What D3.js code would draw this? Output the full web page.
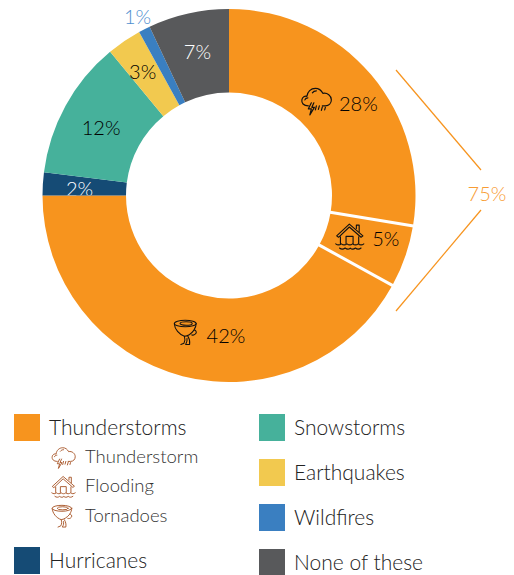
<!DOCTYPE html>
<html><head><meta charset="utf-8">
<script src="https://cdn.jsdelivr.net/npm/d3@7/dist/d3.min.js"></script>
<style>
html,body{margin:0;padding:0;background:#fff}
svg{display:block}
text{font-family:Lato,"Open Sans",sans-serif;font-weight:300}
.ico *{fill:none;stroke:currentColor;stroke-width:1.2;stroke-linecap:round;stroke-linejoin:round}
</style></head><body>
<svg id="c" width="514" height="575"></svg>
<script>
const categories=["Thunderstorm","Flooding","Tornadoes","Hurricanes","Snowstorms","Earthquakes","Wildfires","None of these"];
const values=[27.6,5.4,42,2,12,3,1,7];
const valueLabels=["28%","5%","42%","2%","12%","3%","1%","7%"];
const colors=["#F7941E","#F7941E","#F7941E","#154B75","#46B19B","#F2C94F","#3A7FC1","#58595B"];
const labelColors=["#000","#000","#000","#fff","#000","#000","#4F8FD0","#fff"];
const icons=["i-storm","i-flood","i-tornado",null,null,null,null,null];
const groupTotal="75%";
const leftLegend=[["Thunderstorms","#F7941E"],["Hurricanes","#154B75"]];
const subLegend=[["Thunderstorm","i-storm"],["Flooding","i-flood"],["Tornadoes","i-tornado"]];
const rightLegend=[["Snowstorms","#46B19B"],["Earthquakes","#F2C94F"],["Wildfires","#3A7FC1"],["None of these","#58595B"]];

const svg=d3.select("#c");
const defs=svg.append("defs");
function sym(id,draw){const s=defs.append("symbol").attr("id",id).attr("viewBox","0 0 32 32").attr("class","ico");draw(s);}
sym("i-storm",s=>{
 s.append("path").attr("d","M8 21C3 21 1 18 1.500 15C2 12 4.500 11 6.500 11.500C7 7 10.500 3.500 15 3.500C18.500 3.500 21 5.500 22.500 8.500C27 7.500 31 11 31 15C31 18.500 28.500 21 25 21H22");
 s.append("path").attr("d","M4.500 15C5 13.500 6 13 7.500 13M12 8C13 6.500 14.500 6 16 6");
 s.append("path").attr("d","M11 18L8 24L11 24L9.500 30L14 22.500L11.500 22.500L13.500 18");
 s.append("path").attr("d","M16 21L15 25M19 21L18 24.500M22 22L21 25.500M25 22.500L24.300 25");
});
sym("i-flood",s=>{
 s.append("path").attr("d","M2 15L15.500 2.500L30 15L28 16.500L15.500 5.500L4 16.500Z");
 s.append("path").attr("d","M23 7V3.500H26V10.500");
 s.append("path").attr("d","M6 16V23M25.500 16V23");
 s.append("path").attr("d","M12 23V15.500H19.500V23");
 s.append("path").attr("d","M1 23.500C3 25 5 25 7 23.500C9 25 11 25 13 23.500C15 25 17 25 19 23.500C21 25 23 25 25 23.500C27 25 29 25 31 23.500");
 s.append("path").attr("d","M5 28C7 29.500 9 29.500 11 28C13 29.500 15 29.500 16.500 28C18 29.500 20 29.500 22 28C24 29.500 26 29.500 28 28");
});
sym("i-tornado",s=>{
 s.append("ellipse").attr("cx",14).attr("cy",5.500).attr("rx",12.500).attr("ry",3.800);
 s.append("ellipse").attr("cx",15).attr("cy",5.500).attr("rx",7).attr("ry",2);
 s.append("path").attr("d","M1.500 6C2 12 7 18 13 20C16 20 21 17 24 13C25.500 10.500 26.500 8 26.500 5.500");
 s.append("path").attr("d","M24 13C26 13 27.500 15 26 17C25 18.500 23 19 21.500 18.500");
 s.append("path").attr("d","M13 20C14 23 14 25 12.500 28L9 29.500M17 20C19 23 19.500 26 19 29.500L14.500 29.500C16 27 16.500 25 16 22.500");
});

const cx=229,cy=195.5,R=186.5,r=103;
const pie=d3.pie().sort(null).value(d=>d);
const arc=d3.arc().innerRadius(r).outerRadius(R);
const arcs=pie(values);
const g=svg.append("g").attr("transform",`translate(${cx},${cy})`);
g.selectAll("path.s").data(arcs).join("path").attr("class","s").attr("d",arc).attr("fill",(d,i)=>colors[i]);
// white separators inside the 75% group
const line=d3.lineRadial();
[arcs[0].endAngle,arcs[1].endAngle].forEach(a=>{
 g.append("path").attr("d",line([[a,r-2],[a,R+2]])).attr("stroke","#fff").attr("stroke-width",3).attr("fill","none");
});
defs.append("clipPath").attr("id","clip2").append("path").attr("d",arc(arcs[3]));

const labelOffsets=[[19,1],[20,-5],[33,-1],[-5,2],[-1,1.500],[-5,-5],[0,0],[0,-3]];
const iconOffsets=[[-23,-1],[-16,-6],[-6,-3]];
const iconSize=[32,30,28];
arcs.forEach((d,i)=>{
 const [x,y]=arc.centroid(d);
 const [ox,oy]=labelOffsets[i];
 let tx=x+ox,ty=y+oy;
 if(i===6){const a=(d.startAngle+d.endAngle)/2;tx=Math.sin(a)*(R+15);ty=-Math.cos(a)*(R+15);}
 const lab=g.append("text").attr("x",tx).attr("y",ty).attr("text-anchor","middle").attr("dominant-baseline","central")
  .attr("font-size",20).attr("fill",labelColors[i]).text(valueLabels[i]);
 if(i===3){
  g.append("g").attr("clip-path","url(#clip2)").node().appendChild(lab.node());
 }
 if(icons[i]){
  const s=iconSize[i],[ix,iy]=iconOffsets[i];
  g.append("use").attr("href","#"+icons[i]).attr("x",x+ix-s/2).attr("y",y+iy-s/2).attr("width",s).attr("height",s).style("color","#111");
 }
});

// bracket around the 75% group
svg.append("path").attr("d","M396 70L481 170").attr("stroke","#F7941E").attr("fill","none").attr("stroke-width",1.2);
svg.append("path").attr("d","M481 210L396 311").attr("stroke","#F7941E").attr("fill","none").attr("stroke-width",1.2);
svg.append("text").attr("x",487).attr("y",192.500).attr("text-anchor","middle").attr("dominant-baseline","central").attr("font-size",20).attr("fill","#F89C34").text(groupTotal);

// legend
function sw(x,y,name,col){
 svg.append("rect").attr("x",x).attr("y",y).attr("width",26).attr("height",27).attr("fill",col);
 svg.append("text").attr("x",x+35).attr("y",y+20.500).attr("font-size",21).attr("fill","#222").text(name);
}
sw(14,414,leftLegend[0][0],leftLegend[0][1]);
sw(14,547,leftLegend[1][0],leftLegend[1][1]);
subLegend.forEach((d,i)=>{
 const y=457+i*29.500;
 svg.append("use").attr("href","#"+d[1]).attr("x",51).attr("y",y-12).attr("width",25).attr("height",25).style("color","#A9572B");
 svg.append("text").attr("x",85).attr("y",y+5.500).attr("font-size",18.500).attr("fill","#333").text(d[0]);
});
rightLegend.forEach((d,i)=>sw(259,414+i*45,d[0],d[1]));
</script>
</body></html>
